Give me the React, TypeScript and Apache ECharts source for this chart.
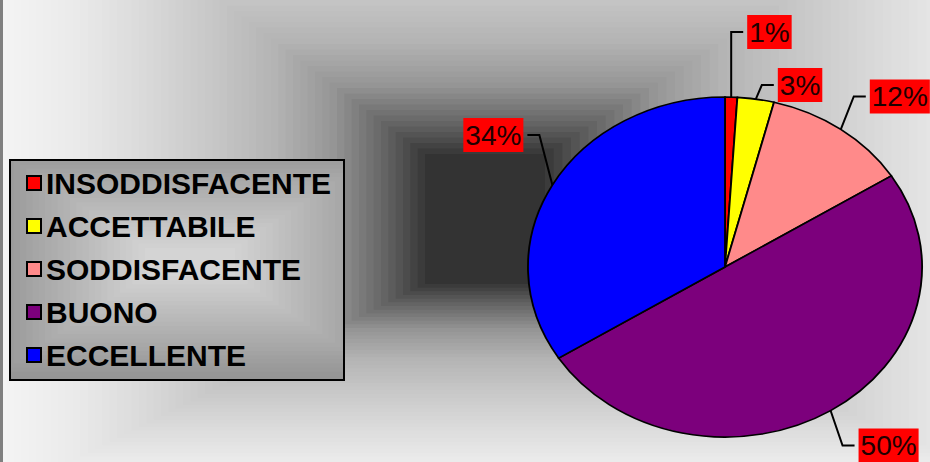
import React, { useEffect, useRef } from "react";
import * as echarts from "echarts";

const CATEGORIES = ["INSODDISFACENTE", "ACCETTABILE", "SODDISFACENTE", "BUONO", "ECCELLENTE"];
const VALUES = [1, 3, 12, 50, 34];
const COLORS = ["#ff0000", "#ffff00", "#ff8a8a", "#7c007c", "#0000ff"];

// label leader-line layout (elbow offset from slice edge, side of the horizontal tail)
const LABEL_LAYOUT = [
  { dx: 0, dy: -65, side: 1 },
  { dx: 6, dy: -14, side: 1 },
  { dx: 13, dy: -33, side: 1 },
  { dx: 12, dy: 35, side: 1 },
  { dx: -13, dy: -50, side: -1 },
];

const W = 930;
const H = 462;
const PCX = 725;
const PCY = 267;
const RX = 197;
const RY = 170;

function lerpTable(tab: number[][], t: number) {
  if (t <= tab[0][0]) return tab[0][1];
  for (let i = 1; i < tab.length; i++) {
    if (t <= tab[i][0]) {
      const [t0, v0] = tab[i - 1];
      const [t1, v1] = tab[i];
      return v0 + ((v1 - v0) * (t - t0)) / (t1 - t0);
    }
  }
  return tab[tab.length - 1][1];
}

function gray(v: number) {
  const c = Math.max(0, Math.min(255, Math.round(v)));
  return `rgb(${c},${c},${c})`;
}

function buildBackground() {
  const els: any[] = [];
  const tab = [
    [0, 51],
    [0.1, 100],
    [0.22, 150],
    [0.35, 180],
    [0.5, 200],
    [0.65, 218],
    [0.8, 234],
    [1, 246],
  ];
  const gx = 485;
  const gy = 222;
  const N = 60;
  for (let k = N; k >= 0; k--) {
    const t = k / N;
    const left = 60 + t * 440;
    const right = 60 + t * 520;
    const top = 68 + t * 330;
    const bottom = 62 + t * 220;
    els.push({
      type: "rect",
      z: 0,
      silent: true,
      shape: { x: gx - left, y: gy - top, width: left + right, height: top + bottom },
      style: { fill: gray(lerpTable(tab, t)) },
    });
  }
  // left border strip
  els.push({
    type: "rect",
    z: 1,
    silent: true,
    shape: { x: 0, y: 0, width: 3, height: H },
    style: { fill: "#808080" },
  });
  // legend box gradient
  const bx = 10,
    by = 160,
    bw = 334,
    bh = 220;
  const lcx = 190,
    lcy = 262;
  const M = 24;
  els.push({
    type: "rect",
    z: 1,
    silent: true,
    shape: { x: bx, y: by, width: bw, height: bh },
    style: { fill: "#959595", stroke: "#000", lineWidth: 2 },
  });
  for (let k = M; k >= 0; k--) {
    const t = k / M;
    const ex = 45 + t * 150;
    const ey = 14 + t * 100;
    const x0 = Math.max(bx + 1, lcx - ex);
    const x1 = Math.min(bx + bw - 1, lcx + ex);
    const y0 = Math.max(by + 1, lcy - ey);
    const y1 = Math.min(by + bh - 1, lcy + ey);
    els.push({
      type: "rect",
      z: 1,
      silent: true,
      shape: { x: x0, y: y0, width: x1 - x0, height: y1 - y0 },
      style: { fill: gray(212 - t * 62) },
    });
  }
  return els;
}

export default function App() {
  const ref = useRef<HTMLDivElement>(null);

  useEffect(() => {
    document.body.style.margin = "0";
    if (!ref.current) return;
    const chart = echarts.init(ref.current, undefined, { renderer: "svg" });
    const total = VALUES.reduce((a, b) => a + b, 0);

    const series = CATEGORIES.map((name, i) => {
      const cum = VALUES.slice(0, i).reduce((a, b) => a + b, 0);
      return {
        type: "custom",
        name,
        coordinateSystem: "none",
        silent: true,
        itemStyle: { color: COLORS[i] },
        data: [[VALUES[i]]],
        z: 2 + i,
        renderItem: (_params: any, api: any) => {
          const v = api.value(0);
          const start = -Math.PI / 2 + (2 * Math.PI * cum) / total;
          const end = start + (2 * Math.PI * v) / total;
          const mid = (start + end) / 2;
          const ax = PCX + RX * Math.cos(mid);
          const ay = PCY + RY * Math.sin(mid);
          const lay = LABEL_LAYOUT[i];
          const ex = ax + lay.dx;
          const ey = ay + lay.dy;
          const hx = ex + lay.side * 12;
          const pct = Math.round((v / total) * 100) + "%";
          return {
            type: "group",
            children: [
              {
                type: "sector",
                x: PCX,
                y: PCY,
                scaleX: RX / RY,
                shape: { cx: 0, cy: 0, r0: 0, r: RY, startAngle: start, endAngle: end, clockwise: true },
                style: { fill: COLORS[i], stroke: "#000", lineWidth: 1.6, strokeNoScale: true },
              },
              {
                type: "polyline",
                shape: { points: [[ax, ay], [ex, ey], [hx, ey]] },
                style: { stroke: "#000", lineWidth: 2, fill: null },
              },
              {
                type: "text",
                x: hx + lay.side * 4,
                y: ey,
                style: {
                  text: pct,
                  font: '28px "Liberation Sans", Arial, sans-serif',
                  fill: "#200000",
                  backgroundColor: "#ff0000",
                  padding: [3, 2, 3, 2],
                  lineHeight: 28,
                  align: lay.side > 0 ? "left" : "right",
                  verticalAlign: "middle",
                },
              },
            ],
          };
        },
      };
    });

    chart.setOption({
      animation: false,
      backgroundColor: "#f8f8f8",
      graphic: { elements: buildBackground() },
      legend: {
        orient: "vertical",
        left: 21,
        top: 163,
        itemWidth: 14,
        itemHeight: 14,
        itemGap: 13,
        icon: "rect",
        selectedMode: false,
        data: CATEGORIES,
        itemStyle: { borderColor: "#000", borderWidth: 2 },
        textStyle: {
          fontFamily: '"Liberation Sans", Arial, sans-serif',
          fontWeight: "bold",
          fontSize: 30,
          lineHeight: 30,
          color: "#000",
          padding: [0, 0, 0, 0],
        },
      },
      series,
    } as any);

    return () => chart.dispose();
  }, []);

  return <div ref={ref} style={{ width: W, height: H }} />;
}
